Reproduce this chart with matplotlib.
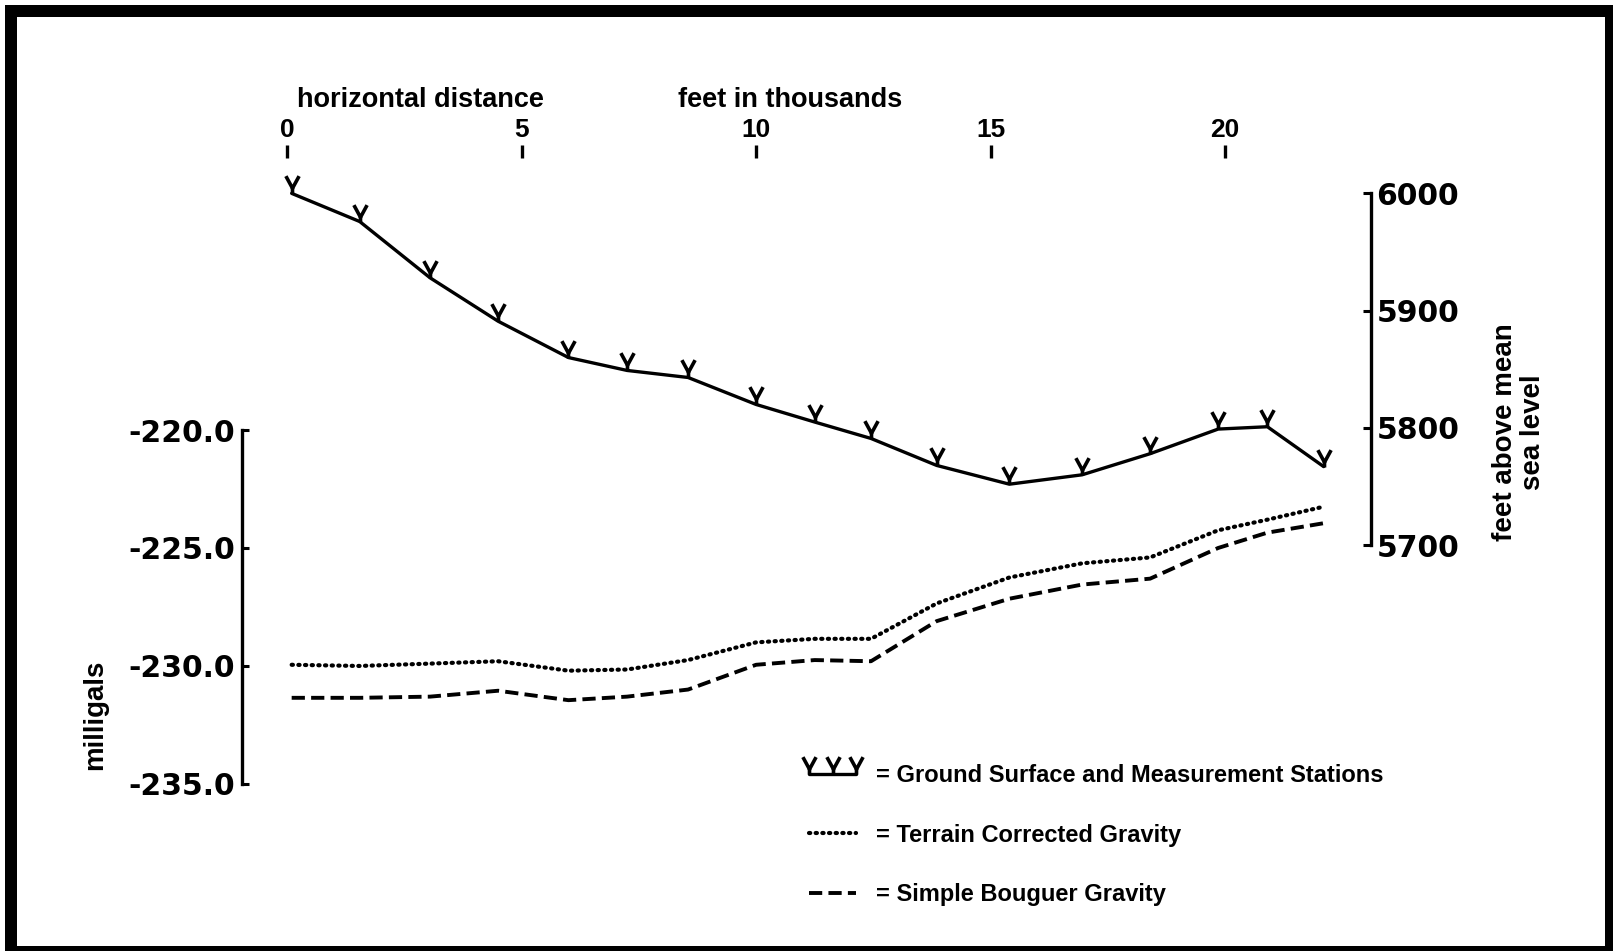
import matplotlib
matplotlib.use("Agg")
import matplotlib.pyplot as plt
from matplotlib.path import Path
from matplotlib.patches import Rectangle

# Station positions along the profile (thousands of feet)
distance_kft = [0.1, 1.55, 3.05, 4.5, 6.0, 7.25, 8.55, 10.0, 11.25, 12.45,
                13.85, 15.4, 16.95, 18.4, 19.85, 20.9, 22.1]
# Ground surface elevation at each station (feet above mean sea level)
elevation_ft = [6000, 5976, 5928, 5891, 5860, 5849, 5843, 5820, 5805, 5791,
                5768, 5752, 5760, 5778, 5799, 5801, 5767]
# Gravity values (milligals)
terrain_corrected_mgal = [-229.95, -230.0, -229.9, -229.8, -230.2, -230.15, -229.75,
                          -229.0, -228.85, -228.85, -227.35, -226.25, -225.65,
                          -225.4, -224.25, -223.8, -223.25]
simple_bouguer_mgal = [-231.35, -231.35, -231.3, -231.05, -231.45, -231.3, -231.0,
                       -229.95, -229.75, -229.8, -228.1, -227.15, -226.55,
                       -226.3, -225.0, -224.35, -223.95]

x_ticks = [0, 5, 10, 15, 20]
gravity_ticks = [-235.0, -230.0, -225.0, -220.0]
elevation_ticks = [5700, 5800, 5900, 6000]

legend_labels = ["= Ground Surface and Measurement Stations",
                 "= Terrain Corrected Gravity",
                 "= Simple Bouguer Gravity"]

TEXT_FONT = ["Liberation Sans", "DejaVu Sans"]
NUM_FONT = ["DejaVu Sans"]

W, H = 1613, 951
fig = plt.figure(figsize=(W / 100, H / 100), dpi=100)
fig.patch.set_facecolor("white")

ax = fig.add_axes([0.1500, 0.1588, 0.7000, 0.6751])
ax2 = ax.twinx()
ax.patch.set_visible(False)

ax.set_xlim(-0.96, 23.11)
ax.set_ylim(-235.68, -208.47)
ax2.set_ylim(5482.7, 6030.2)

# "V" station symbol: open V sitting on a short stem at the ground point
station_marker = Path(
    [(-0.38, 1.0), (0.0, 0.3), (0.38, 1.0), (0.0, 0.3), (0.0, 0.0)],
    [Path.MOVETO, Path.LINETO, Path.LINETO, Path.MOVETO, Path.LINETO],
)

ground, = ax2.plot(distance_kft, elevation_ft, color="black", lw=2.4,
                   marker=station_marker, ms=25, mew=2.6, mfc="none", mec="black",
                   solid_joinstyle="round", solid_capstyle="round")
terrain, = ax.plot(distance_kft, terrain_corrected_mgal, color="black", lw=3.0,
                   linestyle=(0, (0.3, 1.3)), dash_capstyle="round")
bouguer, = ax.plot(distance_kft, simple_bouguer_mgal, color="black", lw=2.8,
                   linestyle=(0, (3.4, 1.6)), dash_capstyle="butt")

# Spines: left gravity scale, right elevation scale
for s in ["top", "right", "bottom"]:
    ax.spines[s].set_visible(False)
for s in ["top", "left", "bottom"]:
    ax2.spines[s].set_visible(False)
ax.spines["left"].set_bounds(-235, -220)
ax.spines["left"].set_linewidth(2.4)
ax2.spines["right"].set_bounds(5700, 6000)
ax2.spines["right"].set_linewidth(2.4)

# Top distance axis
ax.xaxis.tick_top()
ax.set_xticks(x_ticks)
ax.set_xticklabels([str(v) for v in x_ticks], fontsize=19, fontweight="bold",
                   family=TEXT_FONT)
ax.tick_params(axis="x", which="major", top=True, bottom=False, direction="out",
               length=9.4, width=2.4, pad=2)

ax.set_yticks(gravity_ticks)
ax.set_yticklabels([f"{v:.1f}" for v in gravity_ticks], fontsize=21.5,
                   fontweight="bold", family=NUM_FONT)
ax.tick_params(axis="y", direction="in", length=5, width=2.2, pad=5)

ax2.set_yticks(elevation_ticks)
ax2.set_yticklabels([str(v) for v in elevation_ticks], fontsize=21.5,
                    fontweight="bold", family=NUM_FONT)
ax2.tick_params(axis="y", direction="in", length=6, width=2.2, pad=4)

# Axis titles
fig.text(297 / W, 1 - 107 / H, "horizontal distance", ha="left", va="baseline",
         fontsize=19.5, fontweight="bold", family=TEXT_FONT)
fig.text(678 / W, 1 - 107 / H, "feet in thousands", ha="left", va="baseline",
         fontsize=19.5, fontweight="bold", family=TEXT_FONT)
fig.text(95 / W, 1 - 715 / H, "milligals", rotation=90, ha="center", va="center",
         fontsize=20, fontweight="bold", family=TEXT_FONT)
fig.text(1519 / W, 1 - 432 / H, "feet above mean\nsea level", rotation=90,
         ha="center", va="center", multialignment="center", linespacing=1.1,
         fontsize=20, fontweight="bold", family=TEXT_FONT)

leg = ax2.legend([ground, terrain, bouguer], legend_labels,
                 loc="upper left", bbox_to_anchor=(802 / W, 1 - 764 / H),
                 bbox_transform=fig.transFigure, frameon=False, numpoints=3,
                 handlelength=2.6, handletextpad=0.55, labelspacing=1.55,
                 borderpad=0, borderaxespad=0,
                 prop={"family": TEXT_FONT, "weight": "bold", "size": 17})

# Heavy frame around the whole figure
fig.add_artist(Rectangle((11 / W, -1 / H), (1611 - 11) / W, (952 - 11) / H,
                         transform=fig.transFigure, fill=False,
                         lw=12 * 0.72, edgecolor="black", clip_on=False))

fig.savefig("out.png", dpi=100, facecolor="white")
